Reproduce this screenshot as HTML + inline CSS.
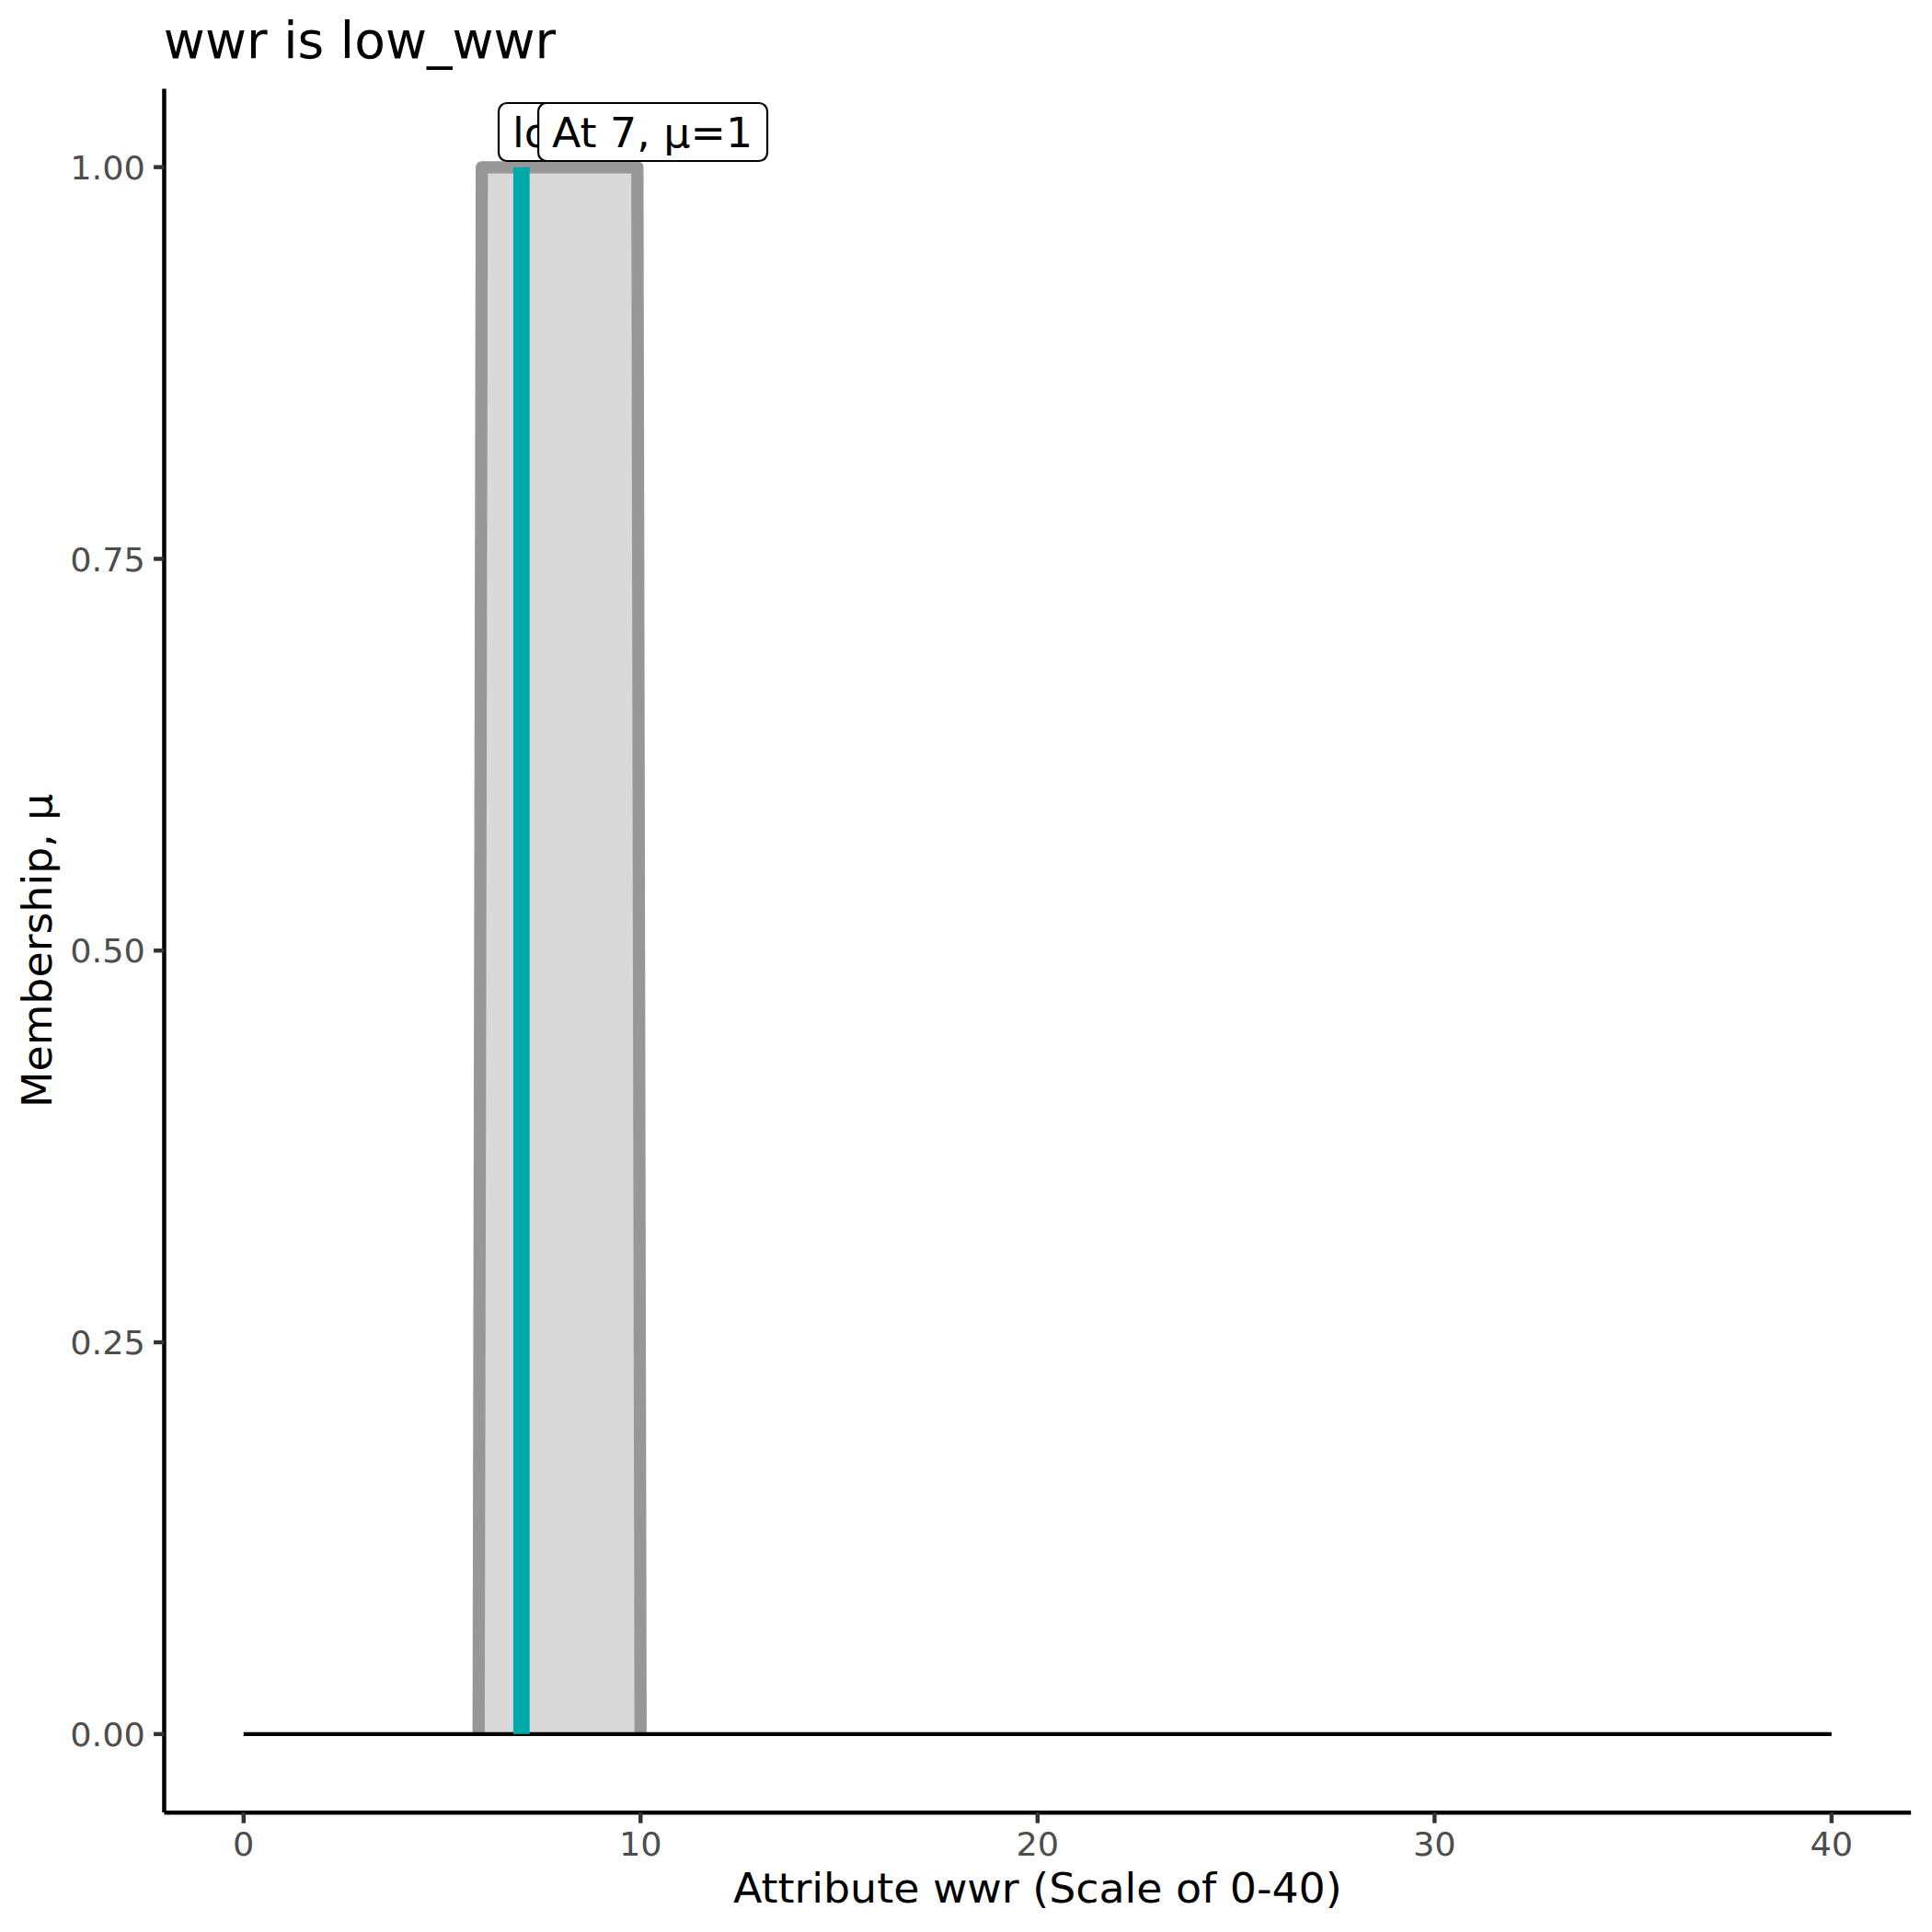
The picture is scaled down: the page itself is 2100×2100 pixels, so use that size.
<!DOCTYPE html>
<html lang="en">
<head>
<meta charset="utf-8">
<title>wwr is low_wwr</title>
<style>
html,body{margin:0;padding:0;background:#fff;}
body{width:2100px;height:2100px;overflow:hidden;}
svg{display:block;}
text{font-family:"DejaVu Sans","Liberation Sans",sans-serif;}
.tick{font-size:36.67px;fill:#4d4d4d;}
.lab{font-size:45.83px;fill:#000;}
.ttl{font-size:55px;fill:#000;}
</style>
</head>
<body>
<svg width="2100" height="2100" viewBox="0 0 2100 2100">
<rect x="0" y="0" width="2100" height="2100" fill="#ffffff"/>

<!-- membership area -->
<polygon points="520.22,1884.85 523.67,181.78 692.83,181.78 696.28,1884.85" fill="#d9d9d9"/>
<polyline points="520.22,1884.85 523.67,181.78 692.83,181.78 696.28,1884.85" fill="none" stroke="#979797" stroke-width="13.3" stroke-linejoin="round" stroke-linecap="butt"/>

<!-- baseline -->
<line x1="264.76" y1="1884.85" x2="1990.84" y2="1884.85" stroke="#000" stroke-width="4.45"/>

<!-- marker -->
<line x1="566.82" y1="1884.85" x2="566.82" y2="181.65" stroke="#00aaaa" stroke-width="17.8"/>

<!-- labels -->
<rect x="542" y="112" width="225" height="63" rx="9" ry="9" fill="#fff" stroke="#000" stroke-width="2.2"/>
<text class="lab" transform="translate(557,160) scale(1,0.983)">low_wwr</text>
<rect x="585.1" y="112" width="248.9" height="63" rx="9" ry="9" fill="#fff" stroke="#000" stroke-width="2.2"/>
<text class="lab" transform="translate(600,160) scale(1,0.983)">At 7, μ=1</text>

<!-- axes -->
<line x1="178.46" y1="96.49" x2="178.46" y2="1970.0" stroke="#000" stroke-width="4.5"/>
<line x1="178.46" y1="1970.15" x2="2077.14" y2="1970.15" stroke="#000" stroke-width="4.45"/>

<!-- ticks -->
<g stroke="#333" stroke-width="4.45">
<line x1="167.05" y1="181.65" x2="178.46" y2="181.65"/>
<line x1="167.05" y1="607.45" x2="178.46" y2="607.45"/>
<line x1="167.05" y1="1033.25" x2="178.46" y2="1033.25"/>
<line x1="167.05" y1="1459.05" x2="178.46" y2="1459.05"/>
<line x1="167.05" y1="1884.85" x2="178.46" y2="1884.85"/>
<line x1="264.76" y1="1970.15" x2="264.76" y2="1981.7"/>
<line x1="696.28" y1="1970.15" x2="696.28" y2="1981.7"/>
<line x1="1127.8" y1="1970.15" x2="1127.8" y2="1981.7"/>
<line x1="1559.32" y1="1970.15" x2="1559.32" y2="1981.7"/>
<line x1="1990.84" y1="1970.15" x2="1990.84" y2="1981.7"/>
</g>

<g class="tick" text-anchor="end">
<text transform="translate(157.9,195.0) scale(1,0.95)">1.00</text>
<text transform="translate(157.9,621.0) scale(1,0.95)">0.75</text>
<text transform="translate(157.9,1046.0) scale(1,0.95)">0.50</text>
<text transform="translate(157.9,1472.0) scale(1,0.95)">0.25</text>
<text transform="translate(157.9,1898.0) scale(1,0.95)">0.00</text>
</g>
<g class="tick" text-anchor="middle">
<text transform="translate(264.76,2017.0) scale(1,0.948)">0</text>
<text transform="translate(696.28,2017.0) scale(1,0.948)">10</text>
<text transform="translate(1127.8,2017.0) scale(1,0.948)">20</text>
<text transform="translate(1559.32,2017.0) scale(1,0.948)">30</text>
<text transform="translate(1990.84,2017.0) scale(1,0.948)">40</text>
</g>

<text class="lab" text-anchor="middle" transform="translate(1127.8,2068.0) scale(1,0.983)">Attribute wwr (Scale of 0-40)</text>
<text class="lab" text-anchor="middle" transform="translate(56.0,1033.25) rotate(-90) scale(1,0.983)">Membership, μ</text>
<text class="ttl" transform="translate(177.85,62.9) scale(1,1)" textLength="426.4" lengthAdjust="spacing">wwr is low_wwr</text>
</svg>
</body>
</html>
